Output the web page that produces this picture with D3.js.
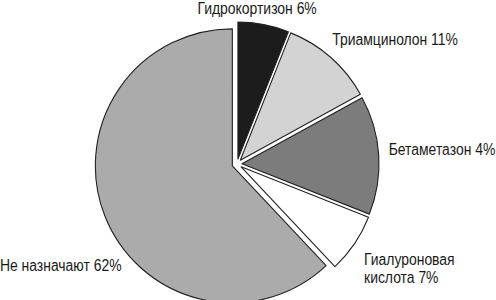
<!DOCTYPE html>
<html>
<head>
<meta charset="utf-8">
<script src="https://cdn.jsdelivr.net/npm/d3@7"></script>
<style>
  body { margin: 0; background: #fff; }
  text { font-family: "Liberation Sans", Arial, sans-serif; font-size: 16px; fill: #1a1a1a; }
</style>
</head>
<body>
<svg id="chart" width="496" height="300"></svg>
<script>
// slice data, clockwise from 12 o'clock
const names = ["Гидрокортизон", "Триамцинолон", "Бетаметазон", "Гиалуроновая кислота", "Не назначают"];
const values = [6, 11, 14, 7, 62];
// label text as printed in the source (note: source prints 4% for the 14% slice)
const labelLines = [
    ["Гидрокортизон 6%"],
    ["Триамцинолон 11%"],
    ["Бетаметазон 4%"],
    ["Гиалуроновая", "кислота 7%"],
    ["Не назначают 62%"]
];
const fills = ["#1c1c1c", "#d3d3d3", "#7c7c7c", "#ffffff", "#ababab"];

// layout
const cx = 237, cy = 164, radius = 137, explode = 5;
const squeeze = 0.87; // narrow typeface look
// label nudges from the label arc point
const labelNudge = [
    { dx: -8, dy: -2.5, anchor: "middle" },
    { dx: -4, dy: -6, anchor: "start" },
    { dx: 2, dy: 0, anchor: "start" },
    { dx: 3, dy: 17, anchor: "start" },
    { dx: 24, dy: 52, anchor: "end" }
];

const data = names.map((n, i) => ({ name: n, value: values[i], idx: i }));

const svg = d3.select("#chart");
const g = svg.append("g").attr("transform", "translate(" + cx + "," + cy + ")");

const pie = d3.pie().sort(null).value(d => d.value);
const arcs = pie(data);

const arc = d3.arc().innerRadius(0).outerRadius(radius);
const labelArc = d3.arc().innerRadius(150).outerRadius(150);

// move each slice a little out along its middle angle
function offset(d) {
    let a = (d.startAngle + d.endAngle) / 2;
    return [Math.sin(a) * explode, -Math.cos(a) * explode];
}

g.selectAll("path.slice")
    .data(arcs)
    .join("path")
    .attr("class", "slice")
    .attr("d", arc)
    .attr("transform", d => "translate(" + offset(d) + ")")
    .attr("fill", d => fills[d.data.idx])
    .attr("stroke", "#222")
    .attr("stroke-width", 1.1)
    .attr("stroke-linejoin", "round");

const labels = g.selectAll("text.label")
    .data(arcs)
    .join("text")
    .attr("class", "label")
    .attr("text-anchor", d => labelNudge[d.data.idx].anchor)
    .attr("transform", d => {
        let p = labelArc.centroid(d);
        let n = labelNudge[d.data.idx];
        return "translate(" + (p[0] + n.dx) + "," + (p[1] + n.dy) + ") scale(" + squeeze + ",1)";
    });

labels.selectAll("tspan")
    .data(d => labelLines[d.data.idx])
    .join("tspan")
    .attr("x", 0)
    .attr("y", (t, i) => i * 18)
    .text(t => t);
</script>
</body>
</html>
